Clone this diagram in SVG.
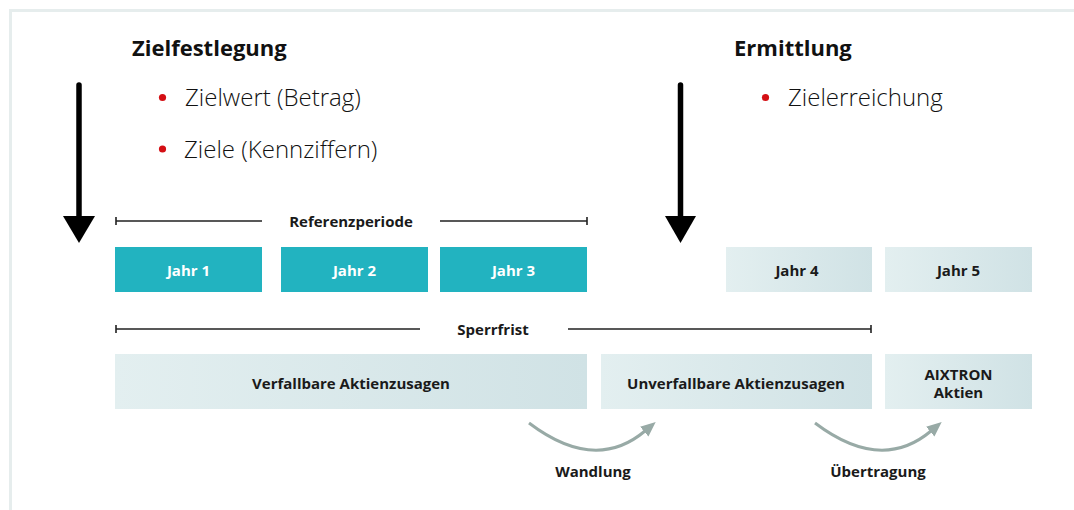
<svg xmlns="http://www.w3.org/2000/svg" width="1074" height="510" viewBox="0 0 1074 510">
  <defs>
    <linearGradient id="paleFill" x1="0" y1="0" x2="1" y2="0">
      <stop offset="0" stop-color="#e3eff0"/>
      <stop offset="1" stop-color="#d0e2e5"/>
    </linearGradient>
    <marker id="flowHead" viewBox="0 0 15 13" refX="1" refY="6.5" markerWidth="15" markerHeight="13" markerUnits="userSpaceOnUse" orient="auto">
      <path d="M0,0 L15,6.5 L0,13 z" fill="#98aaa6"/>
    </marker>
    <style>
      .title { font-family: "Open Sans", "Liberation Sans", sans-serif; font-weight: 700; font-size: 22px; fill: #111; }
      .bullet { font-family: "Open Sans", "Liberation Sans", sans-serif; font-weight: 300; font-size: 24px; fill: #111; }
      .dot { fill: #d40f14; }
      .lbl { font-family: "Open Sans", "Liberation Sans", sans-serif; font-weight: 700; font-size: 15px; fill: #1a1a1a; text-anchor: middle; }
      .lbl-w { fill: #ffffff; }
      .teal { fill: #22b3c0; }
      .pale { fill: url(#paleFill); }
      .span { stroke: #222; stroke-width: 1.6; fill: none; }
      .drop { stroke: #000; stroke-width: 5.5; stroke-linecap: round; }
      .flow { stroke: #98aaa6; stroke-width: 3; fill: none; marker-end: url(#flowHead); }
    </style>
  </defs>

  <rect width="1074" height="510" fill="#ffffff"/>
  <!-- frame edges -->
  <path d="M10.5,510 V10.5 H1074" fill="none" stroke="#e6eded" stroke-width="3"/>

  <!-- phase headings -->
  <g id="zielfestlegung">
    <text class="title" x="132" y="56">Zielfestlegung</text>
    <circle class="dot" cx="162.5" cy="97.5" r="3.6"/>
    <text class="bullet" x="185" y="106">Zielwert (Betrag)</text>
    <circle class="dot" cx="162.5" cy="149" r="3.6"/>
    <text class="bullet" x="184" y="158">Ziele (Kennziffern)</text>
  </g>
  <g id="ermittlung">
    <text class="title" x="734" y="56">Ermittlung</text>
    <circle class="dot" cx="765.5" cy="97.5" r="3.6"/>
    <text class="bullet" x="788" y="106">Zielerreichung</text>
  </g>

  <!-- milestone arrows -->
  <g id="milestone-1">
    <line class="drop" x1="79" y1="85" x2="79" y2="218"/>
    <polygon points="63,216 95,216 79,243"/>
  </g>
  <g id="milestone-2">
    <line class="drop" x1="680.5" y1="85" x2="680.5" y2="218"/>
    <polygon points="665,216 696,216 680.5,243"/>
  </g>

  <!-- period spans -->
  <g id="referenzperiode">
    <path class="span" d="M116,221 H262 M440,221 H587 M116,217 V225 M587,217 V225"/>
    <text class="lbl" x="351" y="226.5" font-size="14">Referenzperiode</text>
  </g>
  <g id="sperrfrist">
    <path class="span" d="M116,329 H420 M568,329 H871 M116,325 V333 M871,325 V333"/>
    <text class="lbl" x="493" y="335">Sperrfrist</text>
  </g>

  <!-- years -->
  <g id="jahr-1">
    <rect class="teal" x="115" y="247" width="147" height="45"/>
    <text class="lbl lbl-w" x="188.5" y="275.5">Jahr 1</text>
  </g>
  <g id="jahr-2">
    <rect class="teal" x="281" y="247" width="147" height="45"/>
    <text class="lbl lbl-w" x="354.5" y="275.5">Jahr 2</text>
  </g>
  <g id="jahr-3">
    <rect class="teal" x="440" y="247" width="147" height="45"/>
    <text class="lbl lbl-w" x="513.5" y="275.5">Jahr 3</text>
  </g>
  <g id="jahr-4">
    <rect class="pale" x="726" y="247" width="146" height="45"/>
    <text class="lbl" x="797" y="275.5">Jahr 4</text>
  </g>
  <g id="jahr-5">
    <rect class="pale" x="885" y="247" width="147" height="45"/>
    <text class="lbl" x="958.5" y="275.5">Jahr 5</text>
  </g>

  <!-- share states -->
  <g id="verfallbar">
    <rect class="pale" x="115" y="354" width="472" height="55"/>
    <text class="lbl" x="351" y="388.5">Verfallbare Aktienzusagen</text>
  </g>
  <g id="unverfallbar">
    <rect class="pale" x="601" y="354" width="271" height="55"/>
    <text class="lbl" x="736" y="388.5">Unverfallbare Aktienzusagen</text>
  </g>
  <g id="aixtron-aktien">
    <rect class="pale" x="885" y="354" width="147" height="55"/>
    <text class="lbl" x="958.5" y="379.5">AIXTRON</text>
    <text class="lbl" x="958.5" y="398">Aktien</text>
  </g>

  <!-- transitions -->
  <g id="connectors">
    <path class="flow" d="M529,423 Q595,473 645,431"/>
    <path class="flow" d="M815,423 Q881,473 931,431"/>
  </g>
  <g id="wandlung">
    <text class="lbl" x="593" y="476.5">Wandlung</text>
  </g>
  <g id="uebertragung">
    <text class="lbl" x="878" y="476.5">Übertragung</text>
  </g>
</svg>
